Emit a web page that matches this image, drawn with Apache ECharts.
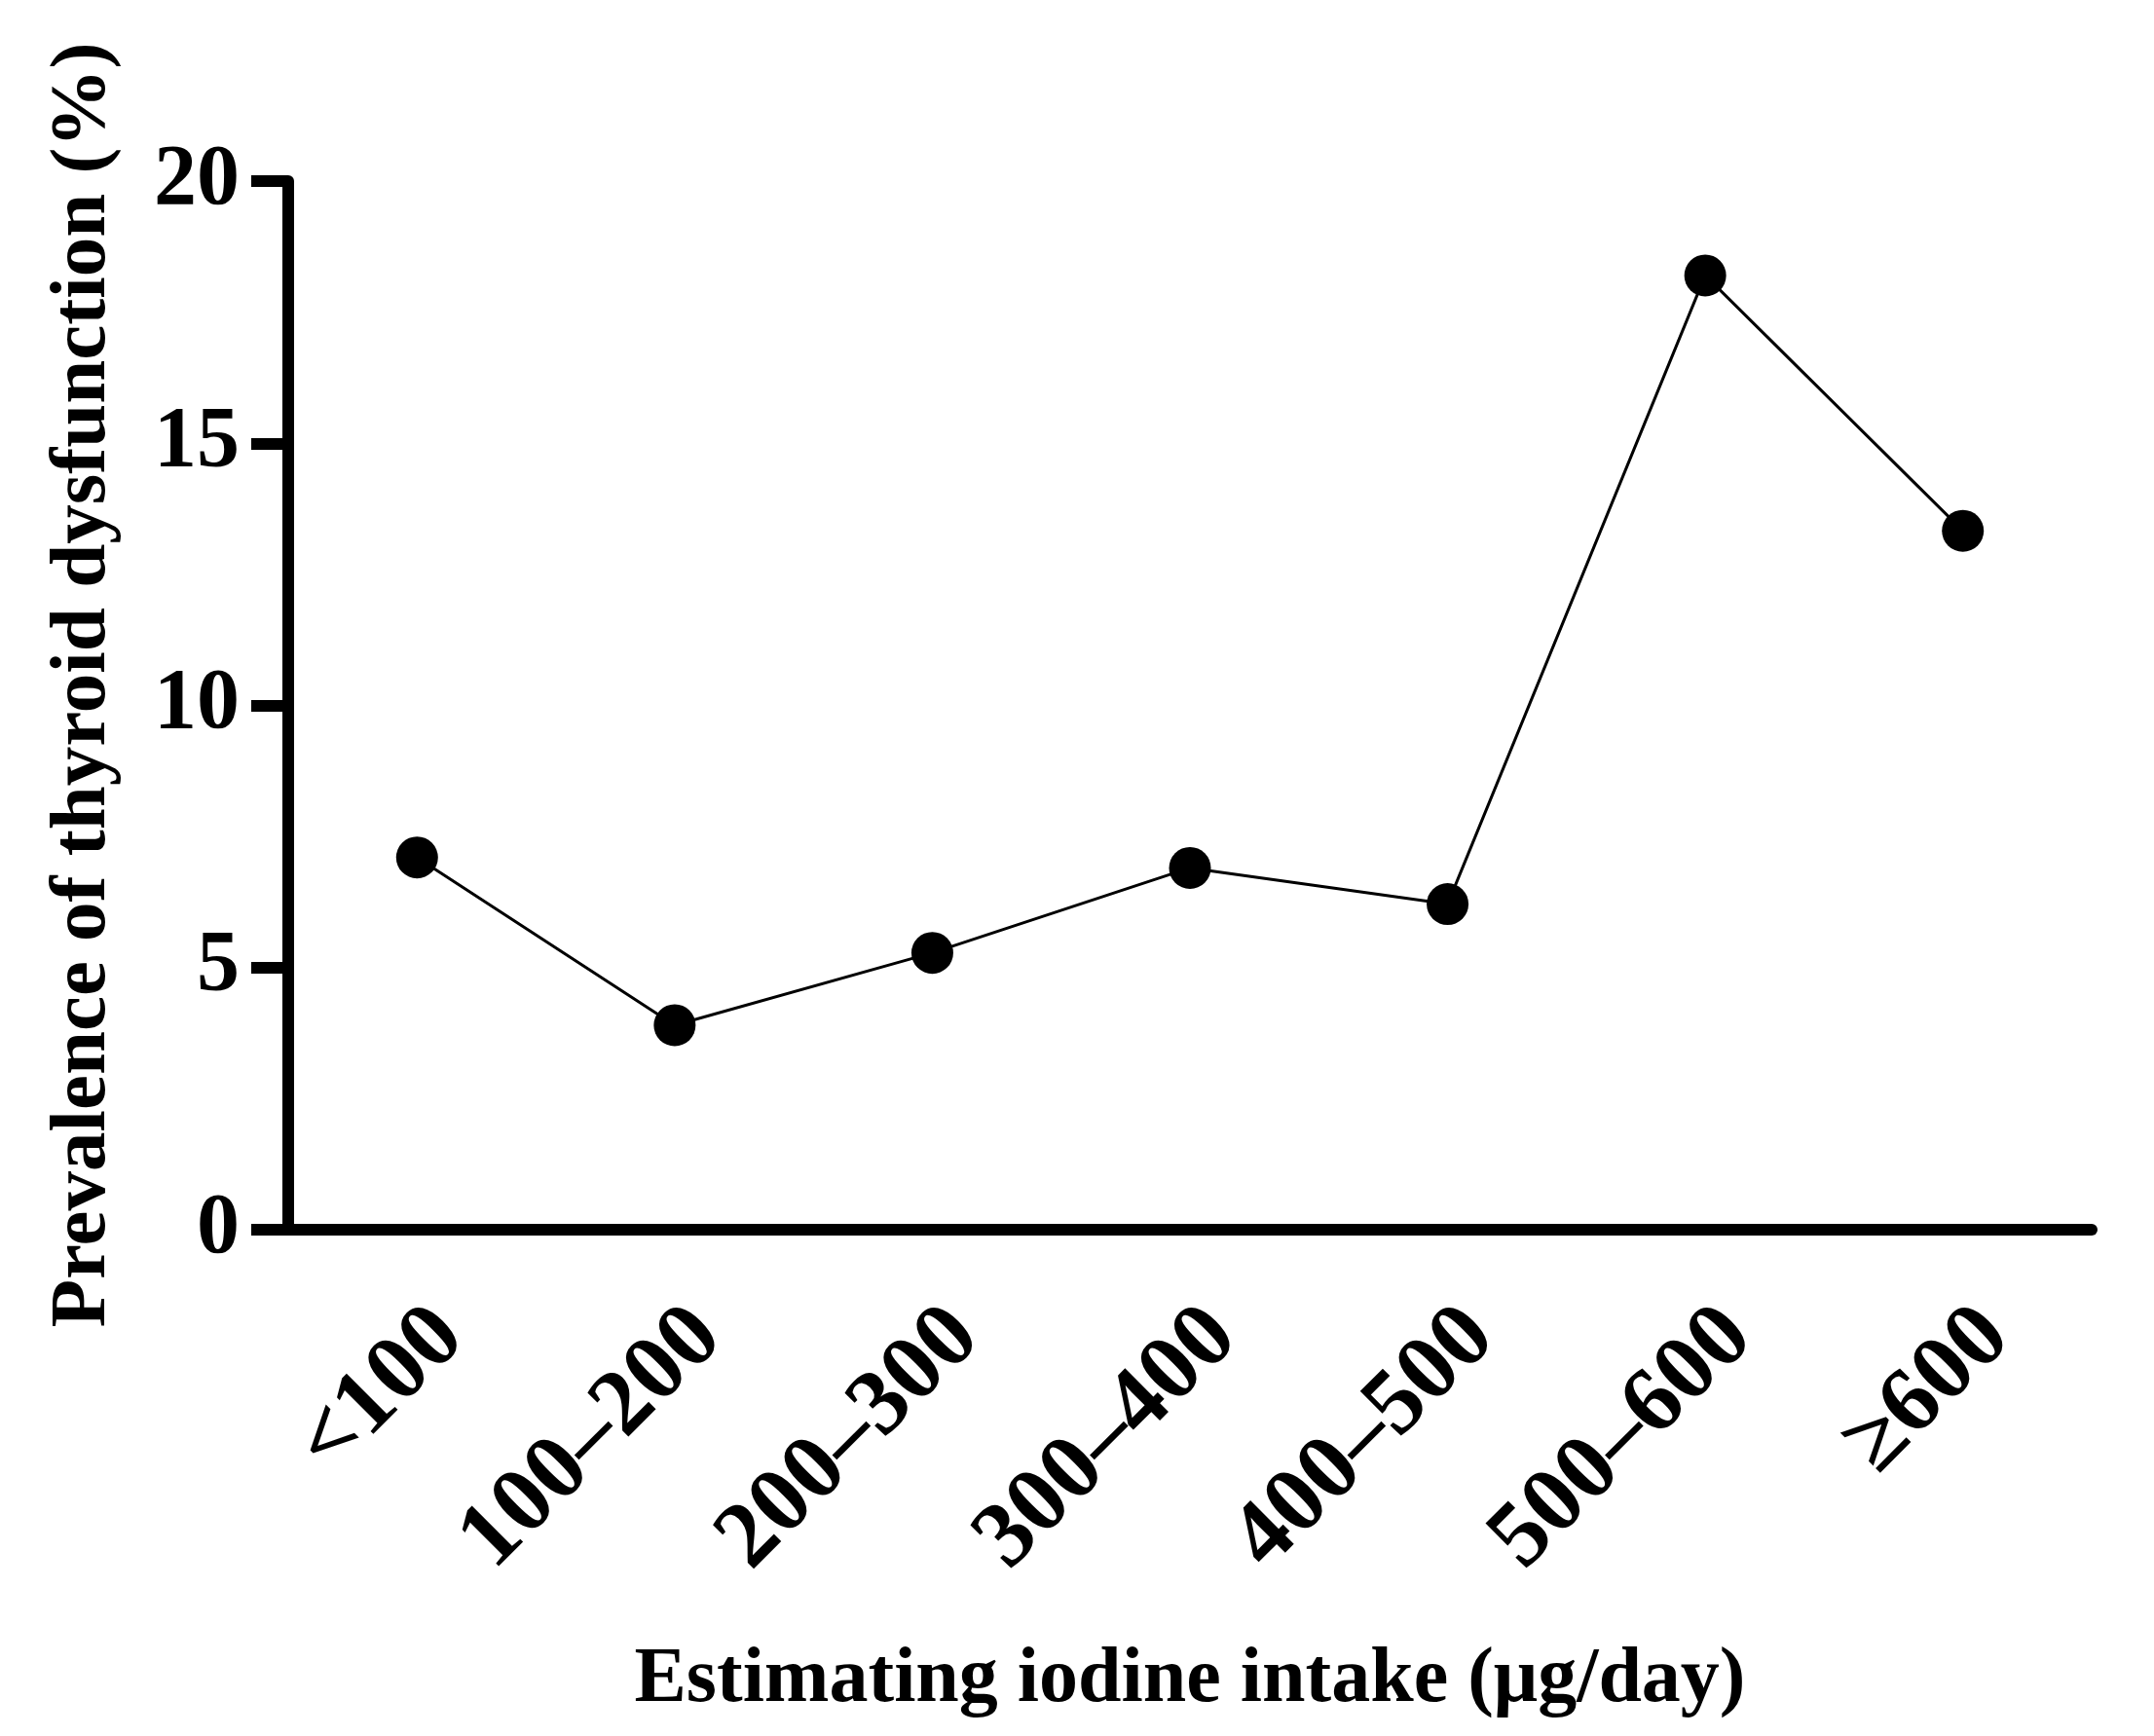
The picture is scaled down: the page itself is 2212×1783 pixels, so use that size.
<!DOCTYPE html>
<html>
<head>
<meta charset="utf-8">
<script src="https://cdn.jsdelivr.net/npm/echarts@6/dist/echarts.min.js"></script>
<style>
html,body{margin:0;padding:0;background:#fff;}
#chart{width:2212px;height:1783px;}
</style>
</head>
<body>
<div id="chart"></div>
<script>
var categories = ['<100', '100–200', '200–300', '300–400', '400–500', '500–600', '≥600'];
var prevalence = [7.10, 3.90, 5.28, 6.90, 6.21, 18.20, 13.33];
var yTicks = [0, 5, 10, 15, 20];
var xTitle = 'Estimating iodine intake (μg/day)';
var yTitle = 'Prevalence of thyroid dysfunction (%)';

var FONT = '"Liberation Serif", "Times New Roman", serif';
var chart = echarts.init(document.getElementById('chart'), null, {renderer: 'canvas'});
chart.setOption({
  animation: false,
  backgroundColor: '#fff',
  grid: {left: 296, right: 64, top: 186, bottom: 520, containLabel: false},
  xAxis: {
    type: 'category',
    data: categories,
    boundaryGap: true,
    name: xTitle,
    nameLocation: 'middle',
    nameGap: 423,
    nameTextStyle: {fontFamily: FONT, fontWeight: 'bold', fontSize: 80, color: '#000'},
    axisLine: {lineStyle: {color: '#000', width: 12}},
    axisTick: {alignWithLabel: true, length: 38, lineStyle: {color: '#000', width: 12}},
    axisLabel: {rotate: 45, margin: 62, verticalAlign: 'top', fontFamily: FONT, fontWeight: 'bold', fontSize: 96, color: '#000', interval: 0},
    splitLine: {show: false}
  },
  yAxis: {
    type: 'value',
    min: yTicks[0],
    max: yTicks[yTicks.length - 1],
    interval: 5,
    name: yTitle,
    nameLocation: 'middle',
    nameGap: 169,
    nameTextStyle: {fontFamily: FONT, fontWeight: 'bold', fontSize: 81, color: '#000', padding: [0, 0, 0, 42]},
    axisLine: {show: true, lineStyle: {color: '#000', width: 12}},
    axisTick: {show: true, length: 38, lineStyle: {color: '#000', width: 12}},
    axisLabel: {margin: 50, fontFamily: FONT, fontWeight: 'bold', fontSize: 88, color: '#000'},
    splitLine: {show: false}
  },
  series: [{
    type: 'line',
    data: prevalence,
    symbol: 'circle',
    symbolSize: 43,
    lineStyle: {color: '#000', width: 3},
    itemStyle: {color: '#000'}
  }]
});
</script>
</body>
</html>
